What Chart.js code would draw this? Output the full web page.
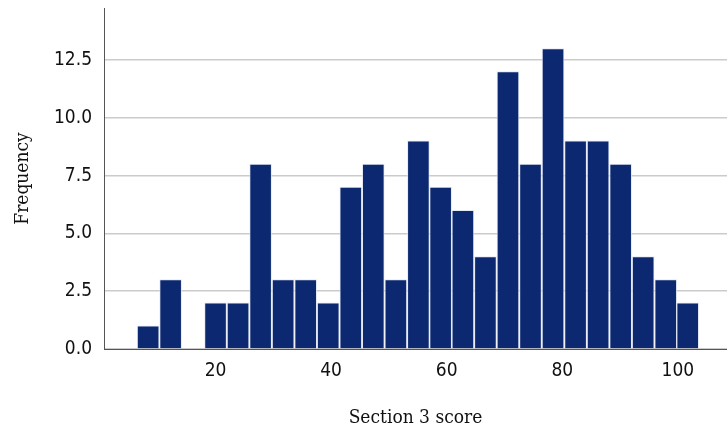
<!DOCTYPE html>
<html>
<head>
<meta charset="utf-8">
<script src="https://cdn.jsdelivr.net/npm/chart.js@4/dist/chart.umd.min.js"></script>
<style>
  html, body { margin: 0; padding: 0; background: #fff; }
  #wrap { width: 727px; height: 433px; }
</style>
</head>
<body>
<div id="wrap"><canvas id="hist"></canvas></div>
<script>
// bin centres of the score histogram (width ~3.9)
const binCentres = [8.34, 12.23, 16.12, 20.0, 23.9, 27.8, 31.7, 35.6, 39.5, 43.4,
    47.3, 51.2, 55.1, 58.95, 62.8, 66.7, 70.6, 74.5, 78.4, 82.3,
    86.2, 90.1, 94.0, 97.9, 101.7];
const counts = [1, 3, 0, 2, 2, 8, 3, 3, 2, 7,
    8, 3, 9, 7, 6, 4, 12, 8, 13, 9,
    9, 8, 4, 3, 2];
const xTicks = [20, 40, 60, 80, 100];
const yTicks = [0, 2.5, 5, 7.5, 10, 12.5];

const tickFont = { family: "'Liberation Sans Narrow', 'DejaVu Sans Condensed', sans-serif", size: 19 };
const titleFont = { family: "'DejaVu Serif Condensed', 'DejaVu Serif', serif", size: 19 };

const data = {
    datasets: [{
        label: 'Frequency',
        data: binCentres.map((x, i) => ({ x: x, y: counts[i] })),
        backgroundColor: '#0b2870',
        borderColor: 'rgba(220,225,240,0.75)',
        borderWidth: 1,
        barPercentage: 1,
        categoryPercentage: 1
    }]
};

const config = {
    type: 'bar',
    data: data,
    options: {
        responsive: true,
        maintainAspectRatio: false,
        animation: false,
        layout: { padding: { top: 8, right: 0, left: 0, bottom: 0 } },
        plugins: {
            legend: { display: false },
            tooltip: { enabled: false }
        },
        scales: {
            x: {
                type: 'linear',
                min: 0.7,
                max: 108.5,
                offset: false,
                grid: { display: false },
                border: { display: true, color: '#555', width: 1 },
                afterBuildTicks: s => { s.ticks = xTicks.map(v => ({ value: v })); },
                afterFit: s => { s.height = 84; s.paddingLeft = 0; s.paddingRight = 0; },
                ticks: {
                    color: '#111',
                    font: tickFont,
                    padding: 3,
                    maxRotation: 0,
                    autoSkip: false
                },
                title: {
                    display: true,
                    text: 'Section 3 score',
                    color: '#111',
                    font: titleFont,
                    padding: { top: 16, bottom: 4 }
                }
            },
            y: {
                min: 0,
                max: 14.75,
                grid: { color: '#cbcbcb', lineWidth: 1.6, drawTicks: false },
                border: { display: true, color: '#555', width: 1 },
                afterBuildTicks: s => { s.ticks = yTicks.map(v => ({ value: v })); },
                afterFit: s => { s.width = 104; s.paddingTop = 0; s.paddingBottom = 0; },
                ticks: {
                    color: '#111',
                    font: tickFont,
                    padding: 12,
                    callback: v => v.toFixed(1)
                },
                title: {
                    display: true,
                    text: 'Frequency',
                    color: '#111',
                    font: titleFont,
                    padding: { top: 12, bottom: 8 }
                }
            }
        }
    }
};

const scoreHist = new Chart(
    document.getElementById('hist'),
    config
);
</script>
</body>
</html>
